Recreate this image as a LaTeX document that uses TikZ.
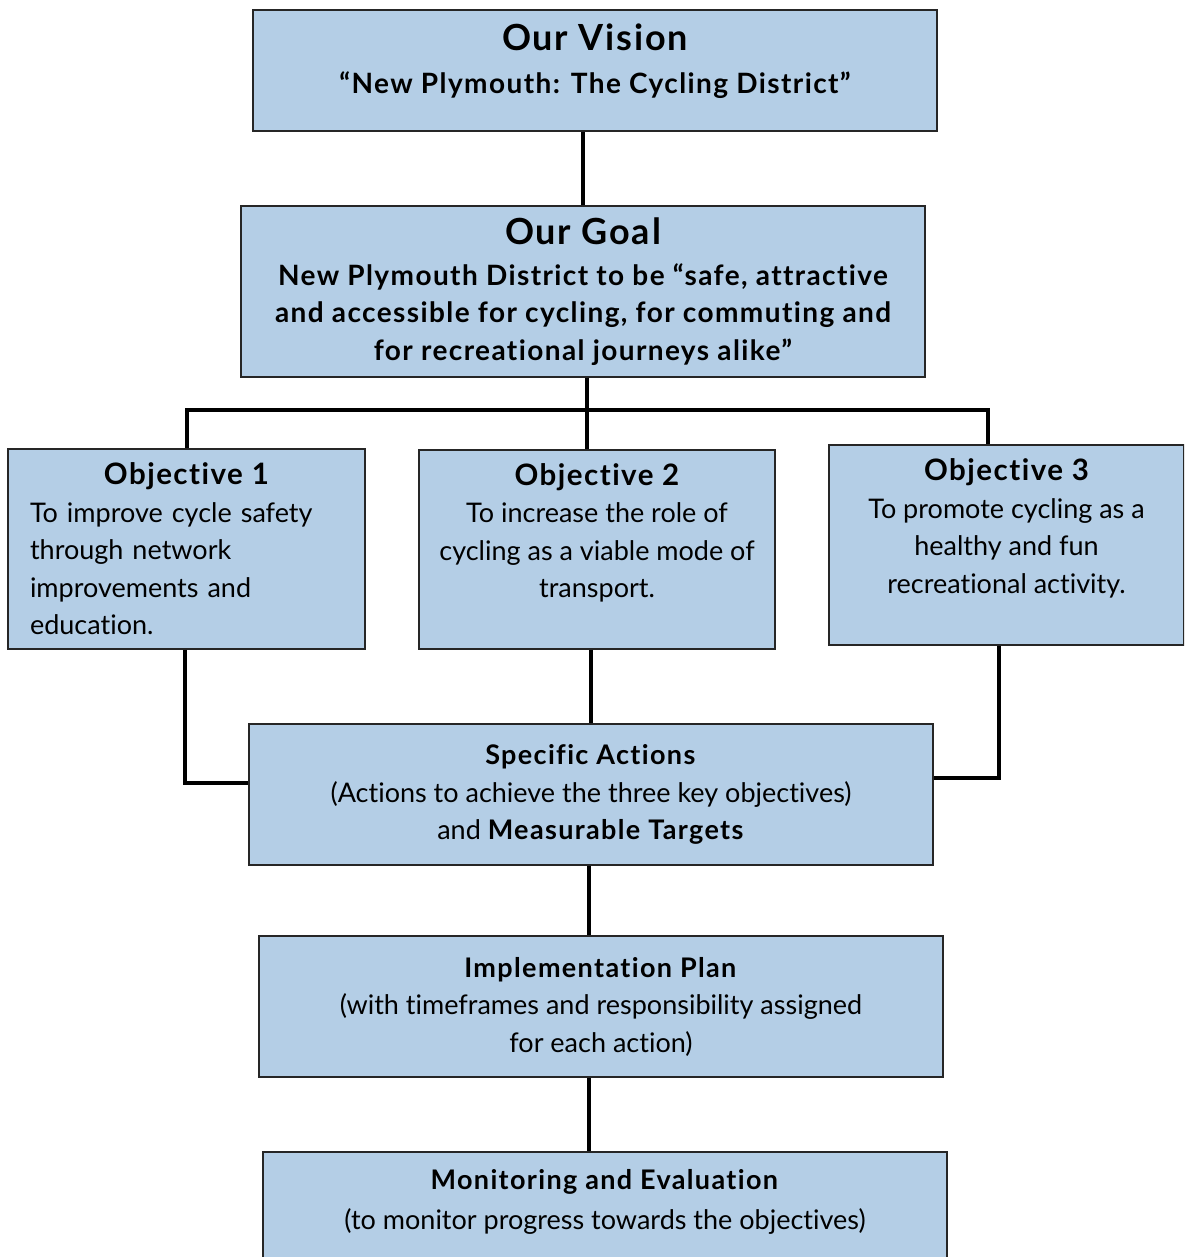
\documentclass[tikz,border=0pt]{standalone}
\usepackage{fontspec}
\setmainfont{Lato}[Ligatures={NoCommon}, BoldFeatures={LetterSpace=5}]
\usepackage{tikz}
\definecolor{boxblue}{HTML}{B4CEE6}
\tikzset{>=latex}
\tikzset{
  panel/.style = {rectangle, draw = black!85, fill = boxblue, line width = 1.3pt, inner sep = 0pt, align = center},
  link/.style = {-, line width = 4pt, draw = black},
}
\newcommand{\bigtitle}[1]{{\fontsize{36}{40}\selectfont\bfseries #1}}
\newcommand{\objtitle}[1]{{\fontsize{29.5}{38}\selectfont\bfseries #1}}
\newcommand{\bodyfont}{\fontsize{27}{37.5}\selectfont}
\newcommand{\leadfont}{\fontsize{28}{37.5}\selectfont\bfseries}

\begin{document}
\begin{tikzpicture}[x=1pt, y=-1pt]
\path [use as bounding box, clip] (0,0) rectangle (1184,1257);

\node [panel, minimum width=684, minimum height=121, font=\leadfont] (vision) at (595, 70.5)
  {\bigtitle{Our Vision}\\[5pt] “New Plymouth: The Cycling District”\\[-14pt] \mbox{}};
\node [panel, minimum width=684, minimum height=171, font=\leadfont] (goal) at (583, 291.5)
  {\bigtitle{Our Goal}\\[3pt] New Plymouth District to be “safe, attractive\\ and accessible for cycling, for commuting and\\ for recreational journeys alike”};

\node [panel, minimum width=357, minimum height=200, text width=313, align=left, font=\bodyfont] (obj1) at (186.5, 549)
  {\objtitle{\hfil Objective 1\hfil}\\ To improve cycle safety\\ through network\\ improvements and\\ education.};
\node [panel, minimum width=356, minimum height=199, font=\bodyfont] (obj2) at (597, 549.5)
  {\objtitle{Objective 2}\\ To increase the role of\\ cycling as a viable mode of\\ transport.\\ \mbox{}};
\node [panel, minimum width=355, minimum height=200, font=\bodyfont] (obj3) at (1006.5, 545)
  {\objtitle{Objective 3}\\ To promote cycling as a\\ healthy and fun\\ recreational activity.\\ \mbox{}};

\node [panel, minimum width=684, minimum height=141, font=\bodyfont] (actions) at (591, 794.5)
  {\textbf{Specific Actions}\\ (Actions to achieve the three key objectives)\\ and \textbf{Measurable Targets}};
\node [panel, minimum width=684, minimum height=141, font=\bodyfont] (impl) at (601, 1006.5)
  {\textbf{Implementation Plan}\\ (with timeframes and responsibility assigned\\ for each action)};
\node [panel, minimum width=684, minimum height=126, font=\bodyfont] (monitor) at (605, 1215)
  {\textbf{Monitoring and Evaluation}\\[3pt] (to monitor progress towards the objectives)\\[-6pt] \mbox{}};

% vision -> goal -> objectives
\coordinate (split) at (587, 410);
\draw [link] (vision.south -| goal.north) -- (goal.north);
\draw [link] (goal.south -| split) -- (split);
\draw [link] (obj1.north) |- (split) -| ([xshift=-18.5]obj3.north);
\draw [link] (split) -- (obj2.north -| split);

% objectives -> actions
\draw [link] ([xshift=-1.5]obj1.south) |- ([yshift=11.5]actions.west);
\draw [link] (obj2.south -| actions.north) -- (actions.north);
\draw [link] ([xshift=-7.5]obj3.south) |- ([yshift=16.5]actions.east);

% actions -> plan -> monitoring
\draw [link] ([xshift=-2]actions.south) -- ([xshift=-2]actions.south |- impl.north);
\draw [link] ([xshift=-12]impl.south) -- ([xshift=-12]impl.south |- monitor.north);
\end{tikzpicture}
\end{document}
